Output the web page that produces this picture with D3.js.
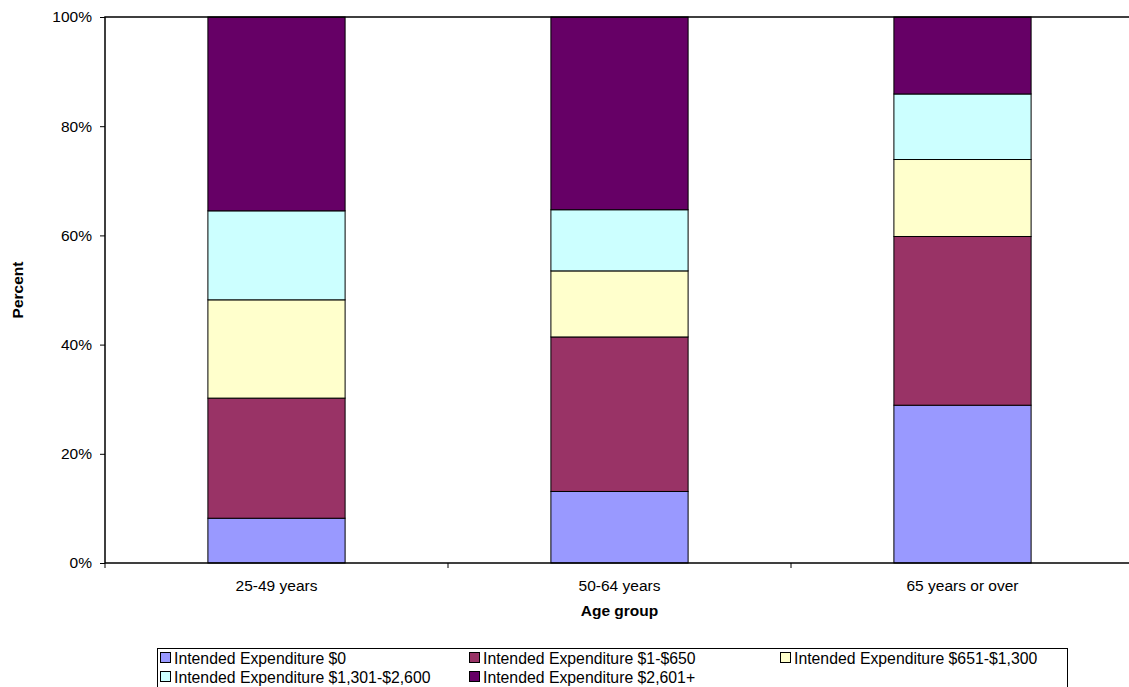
<!DOCTYPE html>
<html>
<head>
<meta charset="utf-8">
<script src="https://cdn.jsdelivr.net/npm/d3@7"></script>
<style>
  body { margin: 0; background: #fff; }
  svg { font-family: "Liberation Sans", Arial, sans-serif; }
</style>
</head>
<body>
<svg id="chart"></svg>
<script>
// Data
const ageGroups = ['25-49 years', '50-64 years', '65 years or over'];
const seriesNames = [
    'Intended Expenditure $0',
    'Intended Expenditure $1-$650',
    'Intended Expenditure $651-$1,300',
    'Intended Expenditure $1,301-$2,600',
    'Intended Expenditure $2,601+'
];
const seriesColors = ['#9999ff', '#993366', '#ffffcc', '#ccffff', '#660066'];
const exp0 = [8.2, 13.1, 28.9];
const exp1to650 = [22.0, 28.3, 30.9];
const exp651to1300 = [18.0, 12.1, 14.1];
const exp1301to2600 = [16.3, 11.2, 12.0];
const exp2601plus = [35.5, 35.3, 14.1];
const yTicks = [0, 20, 40, 60, 80, 100];

const width = 1129;
const height = 687;
const margin = { top: 17, left: 105 };
const plotW = 1029;
const plotH = 546;
const fontSize = 15.5;

const svg = d3.select('#chart')
    .attr('width', width)
    .attr('height', height);

// Build rows for the stack
const allSeries = [exp0, exp1to650, exp651to1300, exp1301to2600, exp2601plus];
const rows = ageGroups.map((g, i) => {
    const row = { group: g };
    seriesNames.forEach((s, j) => { row[s] = allSeries[j][i]; });
    return row;
});
const stacked = d3.stack().keys(seriesNames)(rows);

const x = d3.scaleBand()
    .domain(ageGroups)
    .range([0, plotW])
    .paddingInner(0.6)
    .paddingOuter(0.3);

const y = d3.scaleLinear()
    .domain([0, 100])
    .range([plotH, 0]);

const g = svg.append('g')
    .attr('transform', `translate(${margin.left},${margin.top})`);

// Bars
stacked.forEach((layer, j) => {
    g.append('g')
        .selectAll('rect')
        .data(layer)
        .join('rect')
        .attr('x', d => x(d.data.group))
        .attr('y', d => y(d[1]))
        .attr('width', x.bandwidth())
        .attr('height', d => y(d[0]) - y(d[1]))
        .attr('fill', seriesColors[j])
        .attr('stroke', '#000')
        .attr('stroke-width', 1);
});

// Plot frame
g.append('rect')
    .attr('x', 0)
    .attr('y', 0)
    .attr('width', plotW)
    .attr('height', plotH)
    .attr('fill', 'none')
    .attr('stroke', '#000')
    .attr('stroke-width', 1.5);

// Y axis
const yAxis = g.append('g')
    .call(d3.axisLeft(y)
        .tickValues(yTicks)
        .tickSize(5)
        .tickPadding(8)
        .tickFormat(d => d + '%'));
yAxis.select('.domain').remove();
yAxis.selectAll('line').attr('stroke', '#000');
yAxis.selectAll('text')
    .attr('font-size', fontSize)
    .attr('fill', '#000')
    .attr('font-family', '"Liberation Sans", Arial, sans-serif');

// X axis: ticks at the band boundaries
const xAxis = g.append('g')
    .attr('transform', `translate(0,${plotH})`);
const boundaries = d3.range(ageGroups.length + 1).map(i => i * x.step());
xAxis.selectAll('line')
    .data(boundaries)
    .join('line')
    .attr('x1', d => d)
    .attr('x2', d => d)
    .attr('y1', 0)
    .attr('y2', 5)
    .attr('stroke', '#000');
xAxis.selectAll('text')
    .data(ageGroups)
    .join('text')
    .attr('x', d => x(d) + x.bandwidth() / 2)
    .attr('y', 28)
    .attr('text-anchor', 'middle')
    .attr('font-size', fontSize)
    .text(d => d);

// Axis titles
svg.append('text')
    .attr('x', margin.left + plotW / 2)
    .attr('y', 616)
    .attr('text-anchor', 'middle')
    .attr('font-size', fontSize)
    .attr('font-weight', 'bold')
    .text('Age group');

svg.append('text')
    .attr('transform', `translate(23,${margin.top + plotH / 2}) rotate(-90)`)
    .attr('text-anchor', 'middle')
    .attr('font-size', fontSize)
    .attr('font-weight', 'bold')
    .text('Percent');

// Legend
const legend = svg.append('g');
legend.append('rect')
    .attr('x', 157.5)
    .attr('y', 648.5)
    .attr('width', 910)
    .attr('height', 40)
    .attr('fill', '#fff')
    .attr('stroke', '#000')
    .attr('stroke-width', 1);

const colX = [160, 469, 780];
const rowY = [658, 677];
seriesNames.forEach((name, i) => {
    const cx = colX[i % 3];
    const cy = rowY[Math.floor(i / 3)];
    legend.append('rect')
        .attr('x', cx + 0.5)
        .attr('y', cy - 5.5)
        .attr('width', 10)
        .attr('height', 10)
        .attr('fill', seriesColors[i])
        .attr('stroke', '#000')
        .attr('stroke-width', 1);
    legend.append('text')
        .attr('x', cx + 14)
        .attr('y', cy + 5.5)
        .attr('font-size', 15.8)
        .text(name);
});
</script>
</body>
</html>
